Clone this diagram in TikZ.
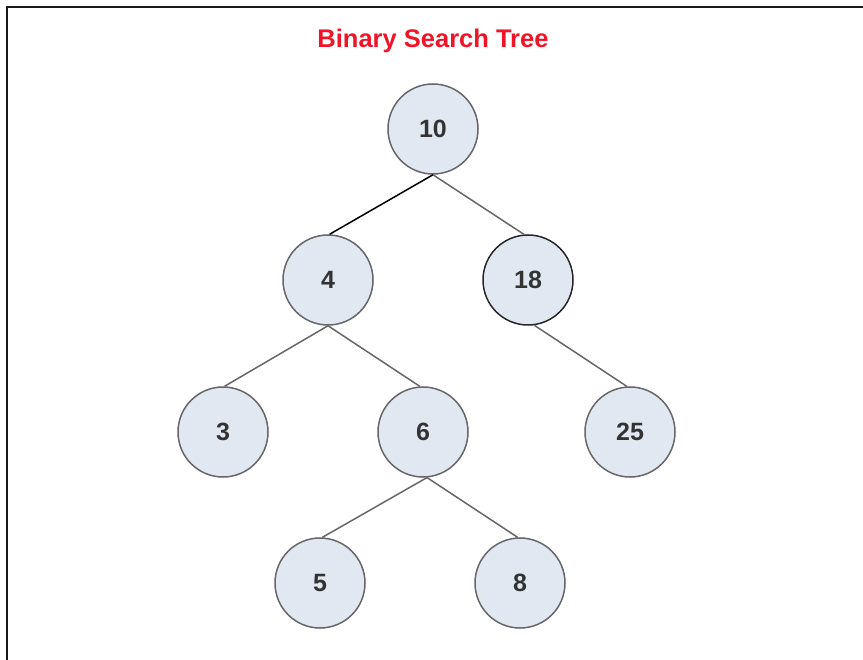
\documentclass[tikz,border=0pt]{standalone}
\usepackage{fontspec}
\setmainfont{Liberation Sans}
\definecolor{nodefill}{HTML}{E2E8F2}
\definecolor{nodeedge}{HTML}{666666}
\definecolor{txt}{HTML}{333333}
\definecolor{titlered}{HTML}{F01428}
\begin{document}
\begin{tikzpicture}[x=1pt,y=-1pt,
  bst/.style={circle,draw=nodeedge,fill=nodefill,line width=1.5pt,minimum size=90pt,inner sep=0pt,
    text=txt,font=\fontsize{25}{25}\selectfont\bfseries},
  edge/.style={draw=nodeedge,line width=1.5pt}]
\useasboundingbox (0,0) rectangle (863,660);
\draw[line width=2.2pt,black!90] (7,660) -- (7,7) -- (863,7);
\node[text=titlered,font=\fontsize{25.5}{25.5}\selectfont\bfseries] (title) at (433,40.5) {Binary Search Tree};
\node[bst] (n10) at (433,129) {10};
\node[bst] (n4) at (328,280) {4};
\node[bst,draw=black!85] (n18) at (528,280) {18};
\node[bst] (n3) at (223,432) {3};
\node[bst] (n6) at (423,432) {6};
\node[bst] (n25) at (630,432) {25};
\node[bst] (n5) at (320,583) {5};
\node[bst] (n8) at (520,583) {8};
\draw[line width=1.5pt,black] (n10.south) -- (n4.88);
\draw[edge] (n10.south) -- (n18.95);
\draw[edge] (n4.south) -- (n3.88);
\draw[edge] (n4.south) -- (n6.94);
\draw[edge] (n18.-82) -- (n25.94);
\draw[edge] (n6.-85) -- (n5.87);
\draw[edge] (n6.-85) -- (n8.93);
\end{tikzpicture}
\end{document}
